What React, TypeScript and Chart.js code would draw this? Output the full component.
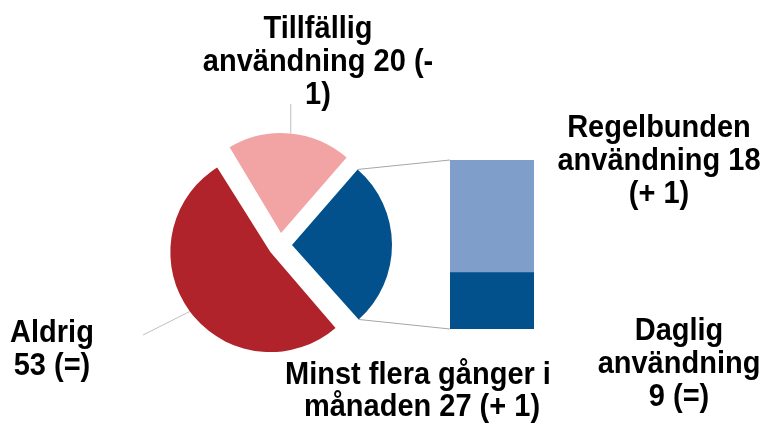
import { useEffect, useRef } from 'react';
import { Chart, registerables } from 'chart.js';

Chart.register(...registerables);

// ---- data ----
const pieCategories = ['Tillfällig användning', 'Minst flera gånger i månaden', 'Aldrig'];
const pieValues = [20, 27, 53];
const pieColors = ['#F2A3A3', '#03518C', '#B0232A'];

const barCategories = ['Daglig användning', 'Regelbunden användning'];
const barValues = [9, 18];
const barColors = ['#03518C', '#7F9FCA'];

// label text (wrapped like the original)
const labelLines: string[][] = [
  ['Tillfällig', `användning ${pieValues[0]} (-`, '1)'],
  ['Minst flera gånger i ', `månaden ${pieValues[1]} (+ 1)`],
  ['Aldrig', `${pieValues[2]} (=)`],
  ['Regelbunden', `användning ${barValues[1]}`, '(+ 1)'],
  ['Daglig', 'användning', `${barValues[0]} (=)`],
];

// ---- layout ----
const W = 766;
const H = 423;
const R = 100; // pie radius
const EXPLODE = 12; // explosion distance
const FONT = 'bold 29px "Liberation Sans", Arial, Helvetica, sans-serif';
const TEXT_SY = 1.06;
const LINE_H = 33;
const labelPos = [
  { x: 318, y: 38, lh: 33 },
  { x: 422, y: 384, lh: 32 },
  { x: 52, y: 342, lh: 33 },
  { x: 659, y: 137, lh: 33 },
  { x: 679, y: 340, lh: 33 },
];

let pieInstance: any = null;

const flatExplode = {
  id: 'flatExplode',
  afterDatasetUpdate(chart: any) {
    const meta = chart.getDatasetMeta(0);
    meta.data.forEach((arc: any) => {
      const c = arc.endAngle - arc.startAngle;
      const fix = 1 - Math.sin(Math.min(Math.PI, c));
      arc.outerRadius = R - EXPLODE * fix;
    });
  },
};

function arcGeom(arc: any) {
  const mid = (arc.startAngle + arc.endAngle) / 2;
  const ox = arc.x + Math.cos(mid) * EXPLODE;
  const oy = arc.y + Math.sin(mid) * EXPLODE;
  return { mid, ox, oy };
}

const overlay = {
  id: 'overlay',
  afterDraw(chart: any) {
    const ctx = chart.ctx;
    ctx.save();
    if (pieInstance) {
      const arcs = pieInstance.getDatasetMeta(0).data;
      // connector lines from the blue slice to the bar
      const blue = arcs[1];
      const g = arcGeom(blue);
      const p1 = [g.ox + R * Math.cos(blue.startAngle), g.oy + R * Math.sin(blue.startAngle)];
      const p2 = [g.ox + R * Math.cos(blue.endAngle), g.oy + R * Math.sin(blue.endAngle)];
      const bottomBar = chart.getDatasetMeta(0).data[0];
      const topBar = chart.getDatasetMeta(1).data[0];
      const left = bottomBar.x - bottomBar.width / 2;
      ctx.strokeStyle = '#A6A6A6';
      ctx.lineWidth = 1;
      ctx.beginPath();
      ctx.moveTo(p1[0], p1[1]);
      ctx.lineTo(left, topBar.y);
      ctx.moveTo(p2[0], p2[1]);
      ctx.lineTo(left, bottomBar.base);
      ctx.stroke();

      // leader lines
      ctx.strokeStyle = '#BFBFBF';
      const pink = arcs[0];
      const gp = arcGeom(pink);
      const pp = [gp.ox + R * Math.cos(gp.mid), gp.oy + R * Math.sin(gp.mid)];
      ctx.beginPath();
      ctx.moveTo(pp[0] + 1, pp[1]);
      ctx.lineTo(pp[0] + 1, labelPos[0].y + 2 * LINE_H);
      const red = arcs[2];
      const gr = arcGeom(red);
      const rp = [gr.ox + R * Math.cos(gr.mid), gr.oy + R * Math.sin(gr.mid)];
      ctx.moveTo(rp[0], rp[1]);
      ctx.lineTo(labelPos[2].x + 91, labelPos[2].y - 7);
      ctx.stroke();
    }

    // labels
    ctx.fillStyle = '#000';
    ctx.font = FONT;
    ctx.textAlign = 'center';
    ctx.textBaseline = 'alphabetic';
    labelLines.forEach((lines, i) => {
      const p = labelPos[i];
      lines.forEach((t, j) => {
        ctx.save();
        ctx.translate(p.x, p.y + j * p.lh);
        ctx.scale(1, TEXT_SY);
        ctx.fillText(t, 0, 0);
        ctx.restore();
      });
    });
    ctx.restore();
  },
};

export default function App() {
  const pieRef = useRef<HTMLCanvasElement>(null);
  const barRef = useRef<HTMLCanvasElement>(null);

  useEffect(() => {
    document.body.style.margin = '0';
    const pie = new Chart(pieRef.current!, {
      type: 'pie',
      data: {
        labels: pieCategories,
        datasets: [
          {
            data: pieValues,
            backgroundColor: pieColors,
            borderWidth: 0,
            offset: EXPLODE * 4,
            radius: R,
          } as any,
        ],
      },
      options: {
        responsive: false,
        animation: false,
        rotation: -31,
        layout: { padding: { left: 140, right: W - 420, top: 105, bottom: H - 385 } },
        plugins: { legend: { display: false }, tooltip: { enabled: false } },
        events: [],
      },
      plugins: [flatExplode],
    });
    pieInstance = pie;

    const bar = new Chart(barRef.current!, {
      type: 'bar',
      data: {
        labels: ['Minst flera gånger i månaden'],
        datasets: barCategories.map((c, i) => ({
          label: c,
          data: [barValues[i]],
          backgroundColor: barColors[i],
          borderWidth: 0,
          barPercentage: 1,
          categoryPercentage: 1,
        })),
      },
      options: {
        responsive: false,
        animation: false,
        layout: { padding: { left: 450, right: W - 534, top: 160, bottom: H - 329 } },
        scales: {
          x: { display: false, stacked: true },
          y: { display: false, stacked: true, min: 0, max: barValues[0] + barValues[1] },
        },
        plugins: { legend: { display: false }, tooltip: { enabled: false } },
        events: [],
      },
      plugins: [overlay],
    });

    return () => {
      bar.destroy();
      pie.destroy();
      pieInstance = null;
    };
  }, []);

  return (
    <div style={{ position: 'relative', width: W, height: H, background: '#fff' }}>
      <canvas ref={pieRef} width={W} height={H} style={{ position: 'absolute', left: 0, top: 0 }} />
      <canvas ref={barRef} width={W} height={H} style={{ position: 'absolute', left: 0, top: 0 }} />
    </div>
  );
}
